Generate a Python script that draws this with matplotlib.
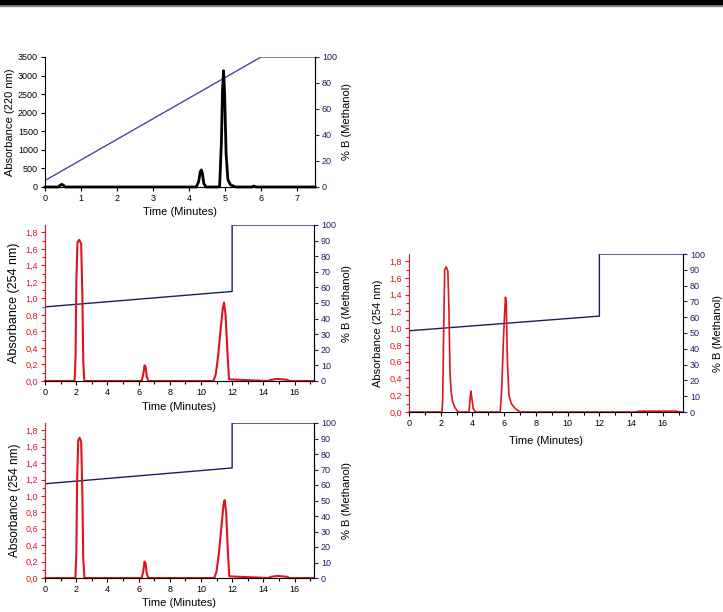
import matplotlib.pyplot as plt
import matplotlib.patches as mpatches
from matplotlib.ticker import MultipleLocator, FuncFormatter

plt.rcParams["font.family"] = ["Liberation Sans", "DejaVu Sans"]

W, H = 723, 612

# --- data ---
# panel 1: 220 nm run, black trace
t1 = [0, 0.38, 0.42, 0.47, 0.52, 0.56, 4.2, 4.27, 4.31, 4.34, 4.37, 4.41, 4.47,
      4.85, 4.9, 4.93, 4.96, 4.99, 5.03, 5.08, 5.15, 5.3, 5.75, 5.8, 5.85, 7.5]
a1 = [0, 0, 50, 70, 40, 0, 0, 150, 400, 460, 380, 100, 0,
      0, 1200, 2600, 3130, 2500, 900, 200, 60, 0, 0, 25, 0, 0]
grad_t1 = [0, 6, 7.5]
grad_b1 = [5, 100, 100]

# panel 2: 254 nm
t2 = [0, 1.9, 1.96, 2.01, 2.08, 2.2, 2.32, 2.4, 2.45, 2.52, 6.2, 6.3, 6.38, 6.45,
      6.52, 6.62, 10.8, 10.95, 11.1, 11.25, 11.4, 11.48, 11.58, 11.7, 11.8,
      14.3, 14.5, 14.9, 15.5, 15.7, 17.25]
a2 = [0, 0, 0.3, 1.2, 1.68, 1.71, 1.66, 1.0, 0.25, 0, 0, 0.08, 0.19, 0.17,
      0.06, 0, 0, 0.08, 0.3, 0.6, 0.88, 0.95, 0.8, 0.35, 0.02,
      0, 0.015, 0.025, 0.015, 0, 0]
grad_t2 = [0, 12, 12, 17.25]
grad_b2 = [47.5, 57.4, 100, 100]

# panel 3: 254 nm
t3 = [0, 1.95, 2.01, 2.06, 2.13, 2.22, 2.32, 2.4, 2.45, 2.53, 6.2, 6.3, 6.38,
      6.45, 6.52, 6.62, 10.85, 11.0, 11.15, 11.3, 11.45, 11.52, 11.62, 11.72,
      11.82, 14.3, 14.5, 14.9, 15.5, 15.7, 17.25]
a3 = [0, 0, 0.3, 1.2, 1.68, 1.71, 1.66, 1.0, 0.25, 0, 0, 0.08, 0.2, 0.18,
      0.06, 0, 0, 0.08, 0.3, 0.6, 0.9, 0.95, 0.8, 0.35, 0.02,
      0, 0.015, 0.025, 0.015, 0, 0]
grad_t3 = [0, 12, 12, 17.25]
grad_b3 = [60.8, 71, 100, 100]

# panel 4: 254 nm (right)
t4 = [0, 2.08, 2.12, 2.18, 2.25, 2.35, 2.45, 2.52, 2.58, 2.65, 2.75, 2.9, 3.1,
      3.78, 3.85, 3.9, 3.95, 4.05, 4.2, 5.75, 5.85, 5.95, 6.02, 6.08, 6.13,
      6.2, 6.3, 6.45, 6.7, 7.0, 14.3, 14.5, 16.8, 17.2]
a4 = [0, 0, 0.13, 0.9, 1.7, 1.73, 1.68, 1.2, 0.5, 0.25, 0.12, 0.05, 0,
      0, 0.15, 0.25, 0.18, 0.04, 0, 0, 0.3, 0.85, 1.15, 1.37, 1.3,
      0.6, 0.2, 0.1, 0.04, 0, 0, 0.01, 0.01, 0]
grad_t4 = [0, 12, 12, 17.27]
grad_b4 = [51.4, 60.7, 100, 100]

RED = "#e0141e"
NAVY = "#1e1e5e"
BLUE1 = "#4848a0"

fig = plt.figure(figsize=(W / 100, H / 100), dpi=100)

# black rule at the top of the page
fig.patches.append(mpatches.Rectangle((0, 1 - 4 / H), 1, 4 / H, transform=fig.transFigure,
                                      color="black", zorder=5))
fig.patches.append(mpatches.Rectangle((0, 1 - 6 / H), 1, 2 / H, transform=fig.transFigure,
                                      color="#888888", zorder=4))


def make_axes(left, right, top, bottom):
    return fig.add_axes([left / W, (H - bottom) / H, (right - left) / W, (bottom - top) / H])


def comma(v, pos):
    return f"{v:.1f}".replace(".", ",")


def panel(box, t, a, gt, gb, xmax, ymax, trace_col, lw, left_col, gcol,
          ylabel, yl_x, yr_x, xl_y, y_major, y_minor, r_major, x_major, x_minor,
          fmt=None, yl_size=8):
    left, right, top, bottom = box
    ax = make_axes(left, right, top, bottom)
    ax2 = ax.twinx()
    ax.set_zorder(ax2.get_zorder() + 1)
    ax.patch.set_visible(False)

    ax2.plot(gt, gb, color=gcol, lw=1.0)
    ax.plot(t, a, color=trace_col, lw=lw, clip_on=False)

    ax.set_xlim(0, xmax)
    ax.set_ylim(0, ymax)
    ax2.set_ylim(0, 100)

    ax.xaxis.set_major_locator(MultipleLocator(x_major))
    if x_minor:
        ax.xaxis.set_minor_locator(MultipleLocator(x_minor))
    ax.yaxis.set_major_locator(MultipleLocator(y_major))
    if y_minor:
        ax.yaxis.set_minor_locator(MultipleLocator(y_minor))
    if fmt:
        ax.yaxis.set_major_formatter(FuncFormatter(fmt))
    ax2.yaxis.set_major_locator(MultipleLocator(r_major))

    for a_ in (ax, ax2):
        a_.spines["top"].set_visible(False)
    ax.spines["left"].set_color(left_col)
    ax2.spines["left"].set_visible(False)
    ax2.spines["right"].set_color(NAVY)
    ax2.spines["bottom"].set_visible(False)

    ax.tick_params(axis="x", which="both", direction="out", length=3, width=0.8,
                   labelsize=6.5, pad=2)
    ax.tick_params(axis="x", which="minor", length=2)
    ax.tick_params(axis="y", which="both", direction="out", length=3, width=0.8,
                   color=left_col, labelcolor=left_col, labelsize=6.5, pad=2)
    ax.tick_params(axis="y", which="minor", length=2)
    ax2.tick_params(axis="y", direction="out", length=3, width=0.8,
                    color=NAVY, labelcolor=NAVY, labelsize=6.5, pad=2)

    ax.set_xlabel("Time (Minutes)", fontsize=8)
    ax.set_ylabel(ylabel, fontsize=yl_size)
    ax2.set_ylabel("% B (Methanol)", fontsize=8)

    w = right - left
    h = bottom - top
    ax.yaxis.set_label_coords((yl_x - left) / w, 0.5)
    ax.yaxis.label.set_verticalalignment("center")
    ax2.yaxis.set_label_coords((yr_x - left) / w, 0.5)
    ax2.yaxis.label.set_verticalalignment("center")
    ax.xaxis.set_label_coords(0.5, (bottom - xl_y) / h)
    ax.xaxis.label.set_verticalalignment("center")
    return ax, ax2


panel((45, 315, 57, 187), t1, a1, grad_t1, grad_b1, 7.5, 3500, "black", 2.0, "black", BLUE1,
      "Absorbance (220 nm)", 10, 347, 212, 500, None, 20, 1, None)

panel((45, 314, 225, 381), t2, a2, grad_t2, grad_b2, 17.25, 1.89, RED, 1.5, RED, NAVY,
      "Absorbance (254 nm)", 14, 347, 407, 0.2, 0.1, 10, 2, 1, comma, yl_size=9)

panel((45, 314, 423, 578), t3, a3, grad_t3, grad_b3, 17.25, 1.89, RED, 1.5, RED, NAVY,
      "Absorbance (254 nm)", 15, 347, 603, 0.2, 0.1, 10, 2, 1, comma, yl_size=8.5)

panel((409, 683, 254, 412), t4, a4, grad_t4, grad_b4, 17.27, 1.885, RED, 1.2, RED, NAVY,
      "Absorbance (254 nm)", 378, 718, 441, 0.2, 0.1, 10, 2, 1, comma)

fig.savefig("out.png", dpi=100)
